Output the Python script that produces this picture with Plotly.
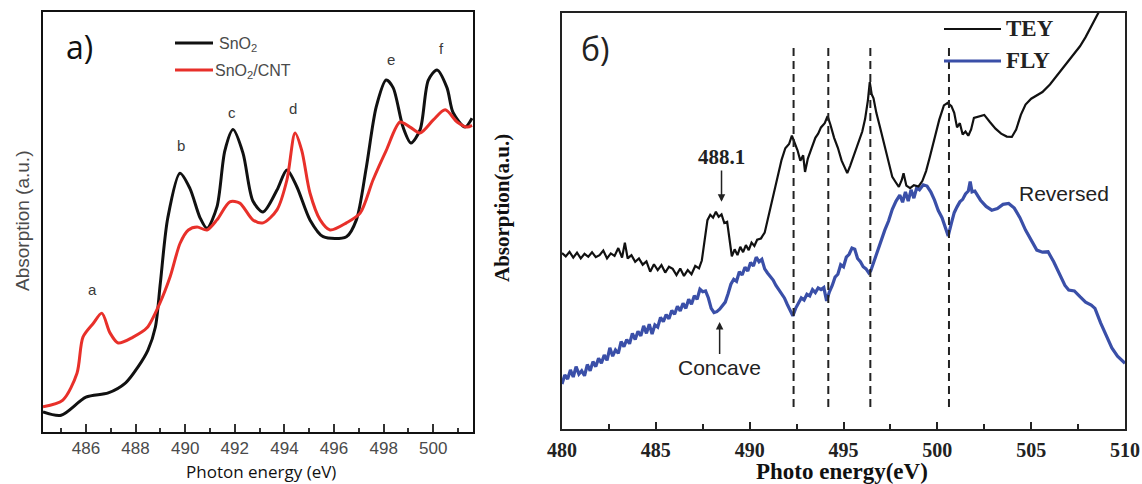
import plotly.graph_objects as go

W, H = 1142, 484

# ---------- panel a): Sn M-edge XANES, SnO2 vs SnO2/CNT ----------
energy_a_sno2 = [484.27, 485.0, 486.0, 486.9, 487.6, 488.1, 488.5, 488.8, 489.0, 489.3,
                 489.79, 490.19, 490.6, 490.88, 491.28, 491.6, 491.93, 492.33, 492.73, 493.14,
                 493.7, 494.1, 494.5, 495.03, 495.56, 496.5, 496.9, 497.3, 497.7, 498.1,
                 498.38, 498.78, 499.1, 499.47, 499.8, 500.15, 500.55, 500.8, 501.28, 501.56]
absorb_a_sno2 = [4.8, 4.0, 8.3, 9.3, 11.7, 15.5, 19.5, 25.0, 35.5, 51.0,
                 61.6, 58.0, 51.0, 48.5, 53.6, 67.0, 72.0, 66.4, 55.0, 52.4,
                 57.6, 62.4, 58.4, 50.5, 46.5, 46.5, 50.5, 63.0, 77.4, 83.8,
                 82.0, 72.6, 68.8, 72.0, 83.8, 86.2, 82.0, 76.0, 72.6, 74.7]

energy_a_cnt = [484.27, 485.07, 485.64, 485.88, 486.3, 486.64, 486.97, 487.3, 487.9, 488.46,
                488.98, 489.39, 489.8, 490.13, 490.48, 490.88, 491.28, 491.8, 492.2, 492.73,
                493.14, 493.7, 494.1, 494.43, 494.7, 495.03, 495.44, 495.84, 496.5, 497.05,
                497.57, 498.1, 498.66, 499.06, 499.47, 500.0, 500.48, 500.96, 501.36, 501.56]
absorb_a_cnt = [6.0, 7.6, 14.0, 22.6, 25.9, 28.3, 23.6, 21.2, 22.6, 24.8,
                30.7, 36.9, 45.0, 48.1, 48.8, 48.1, 50.5, 54.8, 54.5, 50.5,
                49.8, 52.9, 60.0, 71.2, 67.0, 56.9, 50.5, 48.1, 49.8, 52.1,
                60.0, 67.0, 73.8, 72.6, 71.2, 74.3, 76.7, 73.8, 72.6, 73.0]

peak_letters = ["a", "b", "c", "d", "e", "f"]
peak_label_x = [486.28, 489.83, 491.89, 494.35, 498.3, 500.35]
peak_label_y = [34.0, 68.1, 76.0, 77.1, 88.8, 91.2]

xticks_a = [486, 488, 490, 492, 494, 496, 498, 500]

# ---------- panel б): TEY / FLY spectra ----------
energy_tey = [480.0, 480.2, 480.4, 480.6, 480.8, 481.0, 481.2, 481.4, 481.6, 481.8,
              482.0, 482.2, 482.4, 482.6, 482.8, 483.0, 483.2, 483.35, 483.5, 483.7,
              483.9, 484.1, 484.3, 484.5, 484.7, 484.9, 485.1, 485.3, 485.5, 485.7,
              485.9, 486.1, 486.3, 486.5, 486.7, 486.9, 487.1, 487.3, 487.45, 487.6,
              487.75, 487.9, 488.05, 488.2, 488.35, 488.5, 488.65, 488.8, 488.95, 489.05,
              489.2, 489.35, 489.5, 489.65, 489.8, 489.95, 490.1, 490.25, 490.4, 490.6,
              490.8, 491.0, 491.2, 491.45, 491.7, 491.9, 492.1, 492.25, 492.4, 492.55,
              492.7, 492.85, 492.95, 493.1, 493.3, 493.5, 493.65, 493.8, 494.0, 494.15,
              494.3, 494.5, 494.7, 494.9, 495.05, 495.2, 495.35, 495.6, 495.8, 496.0,
              496.15, 496.3, 496.4, 496.5, 496.6, 496.75, 496.95, 497.15, 497.35, 497.6,
              497.8, 497.95, 498.1, 498.2, 498.35, 498.55, 498.75, 499.0, 499.2, 499.4,
              499.6, 499.85, 500.1, 500.35, 500.55, 500.75, 500.9, 501.05, 501.2, 501.35,
              501.5, 501.65, 501.8, 501.95, 502.2, 502.5, 502.8, 503.1, 503.4, 503.7,
              503.97, 504.2, 504.45, 504.7, 505.0, 505.3, 505.6, 506.0, 506.3, 506.6,
              507.0, 507.3, 507.6, 507.9, 508.2, 508.6, 509.0]
signal_tey = [42.3, 41.5, 42.6, 41.2, 42.4, 41.0, 42.1, 41.4, 42.5, 41.3,
              41.8, 42.9, 41.0, 42.2, 41.6, 43.5, 41.2, 44.8, 41.0, 41.8,
              40.2, 41.0, 39.5, 40.3, 37.8, 39.6, 38.2, 39.4, 37.6, 39.0,
              38.5, 37.0, 38.6, 36.8, 38.2, 37.2, 39.2, 38.6, 40.5, 46.0,
              50.2, 51.5, 50.8, 52.2, 51.0, 51.6, 49.5, 49.8, 44.0, 41.5,
              43.2, 41.8, 43.8, 42.5, 44.2, 43.0, 44.8, 44.0, 45.5, 45.8,
              47.2, 51.0, 55.0, 60.0, 64.7, 67.5, 68.5, 70.5, 68.8, 67.0,
              64.5, 65.8, 61.8, 65.0, 67.5, 70.0, 71.0, 72.5, 73.5, 75.2,
              73.2, 70.0, 67.6, 64.5, 63.0, 61.5, 63.2, 66.4, 69.0, 71.5,
              74.5, 79.0, 83.4, 80.5, 79.5, 76.0, 72.5, 68.8, 64.5, 60.6,
              59.2, 58.2, 59.8, 61.5, 58.5, 57.9, 58.6, 58.3, 59.6, 62.0,
              65.4, 70.0, 74.3, 77.8, 78.4, 77.6, 76.0, 72.5, 73.5, 70.8,
              71.5, 70.5, 72.0, 74.8, 75.2, 75.5, 73.8, 72.2, 71.0, 70.3,
              70.2, 72.0, 75.5, 78.0, 79.4, 80.2, 81.0, 82.8, 84.5, 86.3,
              88.6, 90.3, 92.0, 94.2, 96.8, 100.2, 104.5]

energy_fly = [480.0, 480.15, 480.3, 480.45, 480.6, 480.75, 480.9, 481.05, 481.2, 481.35,
              481.5, 481.65, 481.8, 481.95, 482.1, 482.25, 482.4, 482.55, 482.7, 482.85,
              483.0, 483.15, 483.3, 483.45, 483.6, 483.75, 483.9, 484.05, 484.2, 484.35,
              484.5, 484.65, 484.8, 484.95, 485.1, 485.25, 485.4, 485.55, 485.7, 485.85,
              486.0, 486.15, 486.3, 486.45, 486.6, 486.75, 486.9, 487.05, 487.2, 487.35,
              487.5, 487.65, 487.8, 487.95, 488.1, 488.25, 488.4, 488.55, 488.7, 488.85,
              489.0, 489.15, 489.3, 489.45, 489.6, 489.75, 489.9, 490.05, 490.2, 490.35,
              490.5, 490.65, 490.8, 490.95, 491.1, 491.25, 491.4, 491.55, 491.7, 491.85,
              492.0, 492.15, 492.3, 492.45, 492.6, 492.75, 492.9, 493.05, 493.2, 493.35,
              493.5, 493.65, 493.8, 493.95, 494.1, 494.25, 494.4, 494.55, 494.7, 494.85,
              495.0, 495.15, 495.3, 495.45, 495.6, 495.75, 495.9, 496.05, 496.2, 496.35,
              496.45, 496.6, 496.8, 497.0, 497.2, 497.4, 497.6, 497.8, 498.0, 498.15,
              498.3, 498.45, 498.6, 498.75, 498.9, 499.05, 499.25, 499.45, 499.65, 499.85,
              500.05, 500.25, 500.45, 500.58, 500.75, 500.9, 501.05, 501.2, 501.35, 501.5,
              501.65, 501.75, 501.85, 502.0, 502.3, 502.6, 502.9, 503.2, 503.5, 503.8,
              504.1, 504.4, 504.7, 505.0, 505.3, 505.6, 505.9, 506.2, 506.5, 506.8,
              507.0, 507.3, 507.6, 507.9, 508.2, 508.4, 508.7, 509.0, 509.3, 509.6,
              510.0]
signal_fly = [10.8, 13.0, 12.0, 14.2, 12.5, 15.0, 13.2, 14.0, 12.8, 15.5,
              14.0, 16.2, 15.0, 17.0, 15.8, 17.8, 16.5, 19.5, 17.5, 19.0,
              18.2, 21.0, 19.8, 21.5, 20.5, 23.0, 21.5, 23.5, 22.4, 24.8,
              23.0, 25.2, 22.8, 25.0, 24.5, 26.8, 25.8, 27.5, 26.5, 28.5,
              27.6, 29.5, 28.4, 30.2, 29.0, 31.2, 30.0, 32.0, 31.2, 33.6,
              33.0, 33.2, 31.5, 29.0, 28.0, 28.2, 28.8, 29.8, 30.5, 32.5,
              34.8, 36.0, 35.5, 37.8, 37.0, 38.9, 38.0, 40.0, 39.2, 41.3,
              40.2, 40.8, 38.5, 37.5, 36.6, 35.8, 34.5, 33.6, 32.7, 31.5,
              30.0, 28.5, 27.2, 29.0, 30.2, 31.5, 31.0, 32.4, 32.0, 33.5,
              32.8, 33.9, 33.5, 34.0, 30.8, 33.0, 34.5, 36.5, 37.2, 39.5,
              39.0, 41.3, 42.0, 43.5, 43.2, 41.0, 40.2, 39.0, 38.5, 37.5,
              38.0, 40.0, 42.3, 45.5, 47.8, 50.0, 52.8, 54.8, 56.2, 54.5,
              57.0, 54.8, 57.5, 55.5, 58.0, 57.5, 58.7, 58.4, 57.0, 55.0,
              52.5, 50.8, 48.2, 46.4, 49.5, 52.0, 53.4, 54.6, 55.2, 56.5,
              57.2, 59.5, 57.0, 57.2, 55.0, 53.5, 52.6, 53.0, 54.0, 54.2,
              53.1, 50.8, 47.8, 45.5, 43.0, 42.5, 42.6, 40.2, 37.5, 34.5,
              33.4, 33.2, 31.8, 30.5, 29.8, 29.0, 25.5, 22.5, 19.5, 17.5,
              15.8]

feature_energies = [492.34, 494.19, 496.43, 500.62]
xticks_b = [480, 485, 490, 495, 500, 505, 510]

# ---------- figure ----------
fig = go.Figure()

fig.add_trace(go.Scatter(x=energy_a_sno2, y=absorb_a_sno2, mode="lines",
                         line=dict(color="#111111", width=3, shape="spline", smoothing=0.8),
                         xaxis="x", yaxis="y", showlegend=False))
fig.add_trace(go.Scatter(x=energy_a_cnt, y=absorb_a_cnt, mode="lines",
                         line=dict(color="#e8302a", width=3, shape="spline", smoothing=0.8),
                         xaxis="x", yaxis="y", showlegend=False))
fig.add_trace(go.Scatter(x=energy_fly, y=signal_fly, mode="lines",
                         line=dict(color="#3a4fa8", width=3.2),
                         xaxis="x2", yaxis="y2", showlegend=False))
fig.add_trace(go.Scatter(x=energy_tey, y=signal_tey, mode="lines",
                         line=dict(color="#111111", width=2.2),
                         xaxis="x2", yaxis="y2", showlegend=False))


def px(x):
    return x / W


def py(y):
    return 1 - y / H


axis_common = dict(showline=True, mirror=True, showgrid=False, zeroline=False,
                   automargin=False)

fig.update_layout(
    width=W, height=H,
    margin=dict(l=0, r=0, t=0, b=0),
    paper_bgcolor="white", plot_bgcolor="white",
    xaxis=dict(domain=[px(43), px(473)], range=[484.27, 501.6], anchor="y",
               linecolor="#111", linewidth=2,
               tickmode="array", tickvals=xticks_a, ticks="inside", ticklen=8,
               tickwidth=1.5, tickcolor="#333",
               minor=dict(dtick=1, tick0=485, ticks="inside", ticklen=4, tickcolor="#333"),
               tickfont=dict(family="Liberation Sans", size=17, color="#4a4a4a"),
               ticklabelstandoff=0, **axis_common),
    yaxis=dict(domain=[py(432), py(12)], range=[0, 100], anchor="x",
               linecolor="#111", linewidth=2, showticklabels=False, ticks="",
               **axis_common),
    xaxis2=dict(domain=[px(562), px(1125)], range=[480, 510], anchor="y2",
                linecolor="#222", linewidth=1.6,
                tickmode="array", tickvals=xticks_b, ticks="inside", ticklen=7,
                tickwidth=1.5, tickcolor="#222",
                minor=dict(dtick=2.5, tick0=480, ticks="inside", ticklen=5, tickcolor="#222"),
                tickfont=dict(family="Liberation Serif", size=20, color="#222", weight="bold"),
                ticklabelstandoff=2, **axis_common),
    yaxis2=dict(domain=[py(429), py(13)], range=[0, 100], anchor="x2",
                linecolor="#222", linewidth=1.6, showticklabels=False, ticks="",
                **axis_common),
)

shapes = []
# vertical dashed markers on panel б)
for e in feature_energies:
    shapes.append(dict(type="line", xref="x2", yref="y2", x0=e, x1=e, y0=5.3, y1=91.6,
                       line=dict(color="#222", width=2, dash="8px,5px")))
# legend keys
shapes.append(dict(type="line", xref="paper", yref="paper", x0=px(175), x1=px(213),
                   y0=py(43), y1=py(43), line=dict(color="#111", width=3)))
shapes.append(dict(type="line", xref="paper", yref="paper", x0=px(175), x1=px(213),
                   y0=py(70), y1=py(70), line=dict(color="#e8302a", width=3)))
shapes.append(dict(type="line", xref="paper", yref="paper", x0=px(944), x1=px(1001),
                   y0=py(29), y1=py(29), line=dict(color="#111", width=2.2)))
shapes.append(dict(type="line", xref="paper", yref="paper", x0=px(944), x1=px(1001),
                   y0=py(61), y1=py(61), line=dict(color="#3a4fa8", width=3)))
fig.update_layout(shapes=shapes)


def label(text, x, y, size, color, family, xanchor="center", angle=0, weight="normal"):
    return dict(text=text, x=px(x), y=py(y), xref="paper", yref="paper", showarrow=False,
                xanchor=xanchor, yanchor="middle", textangle=angle,
                font=dict(family=family, size=size, color=color, weight=weight))


ann = [
    # panel labels
    label("a)", 79, 46, 32, "#111", "Open Sans"),
    label("б)", 595, 48, 32, "#222", "Open Sans"),
    # axis titles
    label("Photon energy (eV)", 261, 471, 17, "#111", "Open Sans"),
    label("Absorption (a.u.)", 22, 221, 19, "#4a4a4a", "Liberation Sans", angle=-90),
    label("Photo energy(eV)", 842, 471, 23, "#111", "Liberation Serif", weight="bold"),
    label("Absorption(a.u.)", 502, 208, 21, "#111", "Liberation Serif", angle=-90,
          weight="bold"),
    # legend texts
    label("SnO<sub>2</sub>", 217, 45, 16, "#4a4a4a", "Liberation Sans", xanchor="left"),
    label("SnO<sub>2</sub>/CNT", 213, 72, 16, "#4a4a4a", "Liberation Sans", xanchor="left"),
    label("TEY", 1004, 29, 23, "#222", "Liberation Serif", xanchor="left", weight="bold"),
    label("FLY", 1004, 61, 23, "#222", "Liberation Serif", xanchor="left", weight="bold"),
]

# peak letters on panel a)
for t, xv, yv in zip(peak_letters, peak_label_x, peak_label_y):
    ann.append(dict(text=t, x=xv, y=yv, xref="x", yref="y", showarrow=False,
                    xanchor="center", yanchor="middle",
                    font=dict(family="Liberation Sans", size=15, color="#3a3a3a")))

# labelled arrows on panel б): text sits at (ax, ay), arrow points to (x, y)
ann.append(dict(text="488.1", x=488.5, y=54.6, ax=488.5, ay=65.4,
                xref="x2", yref="y2", axref="x2", ayref="y2",
                showarrow=True, arrowhead=2, arrowsize=1, arrowwidth=1.5,
                arrowcolor="#222", standoff=0,
                font=dict(family="Liberation Serif", size=21, color="#222", weight="bold")))
ann.append(dict(text="Concave", x=488.4, y=25.7, ax=488.4, ay=14.9,
                xref="x2", yref="y2", axref="x2", ayref="y2",
                showarrow=True, arrowhead=2, arrowsize=1, arrowwidth=1.5,
                arrowcolor="#222", standoff=0,
                font=dict(family="Liberation Sans", size=21, color="#222")))
ann.append(dict(text="Reversed", x=506.74, y=56.7, xref="x2", yref="y2", showarrow=False,
                xanchor="center", yanchor="middle",
                font=dict(family="Liberation Sans", size=21, color="#222")))
fig.update_layout(annotations=ann)

fig.write_html("out.html")
